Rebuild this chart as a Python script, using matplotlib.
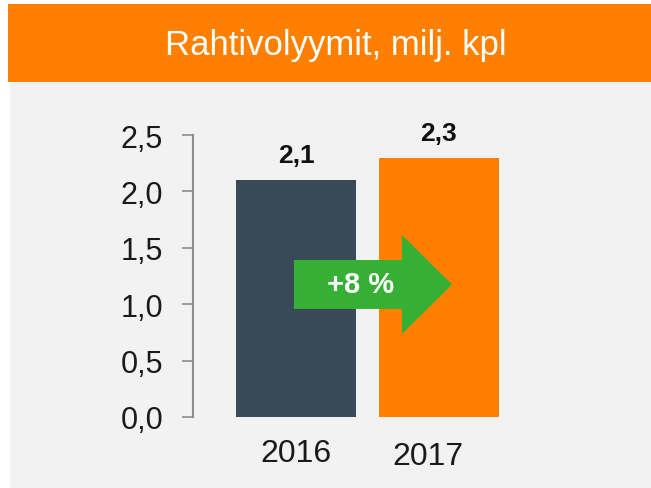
import matplotlib
matplotlib.use("Agg")
import matplotlib.pyplot as plt
from matplotlib.patches import Rectangle
from matplotlib.transforms import ScaledTranslation

plt.rcParams['font.family'] = ['Liberation Sans', 'DejaVu Sans']

# data
years = ['2016', '2017']
volumes = [2.1, 2.3]
value_labels = ['2,1', '2,3']
growth_label = '+8 %'
title = 'Rahtivolyymit, milj. kpl'
yticks = [0.0, 0.5, 1.0, 1.5, 2.0, 2.5]
ytick_labels = ['0,0', '0,5', '1,0', '1,5', '2,0', '2,5']

bar_colors = ['#394957', '#ff8000']
orange = '#ff8000'
green = '#36b034'
panel_gray = '#f2f2f2'

W, H = 651, 489
fig = plt.figure(figsize=(W / 100, H / 100), dpi=100, facecolor='white')

# header band and grey panel
fig.patches.append(Rectangle((10 / W, 0), (W - 10) / W, (H - 83) / H,
                             transform=fig.transFigure, facecolor=panel_gray,
                             edgecolor='none', zorder=-10))
fig.patches.append(Rectangle((8 / W, 1 - 83 / H), (W - 8) / W, 78 / H,
                             transform=fig.transFigure, facecolor=orange,
                             edgecolor='none', zorder=-10))
fig.text(336 / W, 1 - 45 / H, title, color='white', fontsize=25,
         ha='center', va='center')

ax = fig.add_axes([193 / W, (H - 418) / H, 0.536, 282 / H])
ax.set_facecolor('none')
ax.set_zorder(1)

x = list(range(len(years)))
bars = ax.bar(x, volumes, width=0.84, color=bar_colors, zorder=2)

for xi, v, lab in zip(x, volumes, value_labels):
    ax.annotate(lab, (xi, v), xytext=(0, 13), textcoords='offset points',
                ha='center', va='baseline', fontsize=19, fontweight='bold',
                color='#111111')

# growth arrow between bars
arrow_y = 1.175
ax.arrow(-0.014, arrow_y, 1.105, 0, width=0.434, head_width=0.878,
         head_length=0.35, length_includes_head=True, color=green,
         linewidth=0, zorder=3)
ax.text(0.45, arrow_y, growth_label, color='white', fontsize=21,
        fontweight='bold', ha='center', va='center', zorder=4)

ax.set_xlim(-0.72, 1.72)
ax.set_ylim(0, 2.5)
ax.set_yticks(yticks)
ax.set_yticklabels(ytick_labels)
ax.set_xticks(x)
ax.set_xticklabels(years)

for side in ['top', 'right', 'bottom']:
    ax.spines[side].set_visible(False)
ax.spines['left'].set_color('#8c8c8c')
ax.spines['left'].set_linewidth(1.5)

ax.tick_params(axis='y', length=8, width=1.2, color='#8c8c8c', pad=13.5,
               labelsize=22, labelcolor='#1a1a1a')
ax.tick_params(axis='x', length=0, pad=15, labelsize=23, labelcolor='#1a1a1a')

# the 2017 label sits a little left of its bar in the original
lbl = ax.get_xticklabels()[1]
lbl.set_transform(lbl.get_transform() +
                  ScaledTranslation(-8 / 72, -2 / 72, fig.dpi_scale_trans))

fig.savefig('out.png', dpi=100, facecolor='white')
